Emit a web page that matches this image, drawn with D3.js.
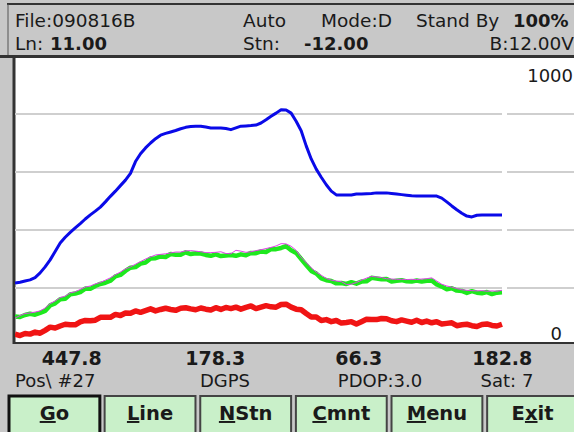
<!DOCTYPE html>
<html>
<head>
<meta charset="utf-8">
<title>Survey Screen</title>
<script src="https://d3js.org/d3.v7.min.js"></script>
<style>
  body { margin: 0; background: #c8c8c8; }
  svg { display: block; font-family: "DejaVu Sans", sans-serif; }
</style>
</head>
<body>
<div id="screen"></div>
<script>
  // readings along the line, one value per sample
  var blue = [217,220,224,228,236,252,273,297,326,355,375,392,407,422,438,452,465,479,497,516,
    534,553,572,595,636,663,683,700,715,727,733,738,743,749,754,757,758,758,755,752,
    752,752,750,746,752,758,759,760,762,769,780,792,803,815,814,803,775,742,690,645,
    610,582,556,534,521,521,521,521,524,524,525,526,528,528,528,526,524,522,520,518,
    517,517,517,517,517,510,497,483,470,458,448,445,451,452,452,452,452,452];
  var green = [102,100,107,111,108,114,121,140,147,161,163,178,181,186,198,197,207,214,218,225,
    240,245,259,270,272,284,288,302,303,309,307,317,315,315,323,317,320,319,314,311,
    316,310,312,314,311,316,313,321,320,326,324,334,334,338,344,330,321,300,279,259,
    250,233,227,224,216,217,214,220,215,222,223,235,233,230,231,222,225,227,223,222,
    226,222,225,226,212,205,196,199,191,190,183,189,184,182,186,179,184,185];
  var magenta = [96,105,112,114,117,121,131,146,155,167,172,183,187,195,203,207,214,219,227,235,
    246,255,266,273,282,291,300,307,314,316,318,321,324,324,328,329,327,325,322,322,
    323,325,319,318,330,327,323,325,329,332,336,340,345,353,352,344,330,305,288,270,
    255,244,233,227,224,222,212,213,219,227,234,240,238,236,232,231,230,230,229,230,
    229,231,232,235,224,213,207,203,198,194,192,191,190,191,189,190,189,192];
  var red = [41,36,43,41,48,44,54,65,62,69,75,73,73,83,88,87,89,99,99,99,
    109,105,114,113,121,116,122,128,121,126,130,126,123,130,132,128,125,131,127,124,
    132,126,133,129,134,127,133,138,129,134,139,135,134,143,144,134,127,125,112,100,
    100,88,91,84,88,79,81,84,76,84,92,91,91,95,94,87,84,90,86,82,
    89,81,86,80,84,76,78,80,70,73,75,70,67,74,76,71,69,75];

  var gridValues = [200, 400, 600, 800];
  var axisLabels = [0, 1000];
  var readings = ["447.8", "178.3", "66.3", "182.8"];
  var statusTexts = ["Pos\\ #27", "DGPS", "PDOP:3.0", "Sat: 7"];
  var buttons = ["Go", "Line", "NStn", "Cmnt", "Menu", "Exit"];
  var hotkeys = [0, 0, 0, 0, 0, 1];

  var W = 574, H = 432;
  var plot = { left: 15, right: 574, top: 58, bottom: 342 };

  var svg = d3.select('#screen').append('svg')
    .attr('width', W)
    .attr('height', H);

  svg.append('rect').attr('width', W).attr('height', H).attr('fill', '#c8c8c8');

  // header frame
  svg.append('line').attr('x1', 7).attr('x2', W).attr('y1', 4).attr('y2', 4)
    .attr('stroke', '#333').attr('stroke-width', 2);
  svg.append('line').attr('x1', 8).attr('x2', 8).attr('y1', 4).attr('y2', 57)
    .attr('stroke', '#555').attr('stroke-width', 1);

  var header = [
    { t: 'File:090816B', x: 15, y: 27 },
    { t: 'Auto', x: 243, y: 27 },
    { t: 'Mode:D', x: 321, y: 27 },
    { t: 'Stand By', x: 416, y: 27 },
    { t: '100%', x: 513, y: 27, b: true },
    { t: 'Ln:', x: 15, y: 50 },
    { t: '11.00', x: 50, y: 50, b: true },
    { t: 'Stn:', x: 243, y: 50 },
    { t: '-12.00', x: 304, y: 50, b: true },
    { t: 'B:12.00V', x: 574, y: 50, end: true }
  ];
  svg.selectAll('.hdr').data(header).enter().append('text')
    .attr('class', 'hdr')
    .attr('x', function(d) { return d.x; })
    .attr('y', function(d) { return d.y; })
    .attr('text-anchor', function(d) { return d.end ? 'end' : 'start'; })
    .attr('font-size', function(d) { return d.b ? 18 : 18.5; })
    .attr('font-weight', function(d) { return d.b ? 'bold' : 'normal'; })
    .attr('fill', '#1a1a1a')
    .text(function(d) { return d.t; });

  // plot area
  svg.append('rect')
    .attr('x', plot.left).attr('y', plot.top)
    .attr('width', plot.right - plot.left).attr('height', plot.bottom - plot.top)
    .attr('fill', '#fff');
  svg.append('line').attr('x1', 0).attr('x2', W).attr('y1', 56.5).attr('y2', 56.5)
    .attr('stroke', '#333').attr('stroke-width', 3);
  svg.append('line').attr('x1', 13).attr('x2', W).attr('y1', 343).attr('y2', 343)
    .attr('stroke', '#333').attr('stroke-width', 2);
  svg.append('line').attr('x1', 14).attr('x2', 14).attr('y1', 56).attr('y2', 344)
    .attr('stroke', '#333').attr('stroke-width', 3);

  var x = d3.scaleLinear().domain([0, blue.length - 1]).range([15, 502]);
  var y = d3.scaleLinear().domain([0, 1000]).range([346, 56]);

  var grid = svg.append('g');
  gridValues.forEach(function(v) {
    grid.append('line').attr('x1', plot.left).attr('x2', 502)
      .attr('y1', y(v)).attr('y2', y(v))
      .attr('stroke', '#cfcfcf').attr('stroke-width', 2);
    grid.append('line').attr('x1', 507).attr('x2', plot.right)
      .attr('y1', y(v)).attr('y2', y(v))
      .attr('stroke', '#cfcfcf').attr('stroke-width', 2);
  });

  svg.selectAll('.ylab').data(axisLabels).enter().append('text')
    .attr('class', 'ylab')
    .attr('x', function(d) { return d === 0 ? 562 : 573; })
    .attr('y', function(d) { return d === 0 ? y(d) - 6 : y(d) + 26; })
    .attr('text-anchor', 'end')
    .attr('font-size', 18)
    .attr('fill', '#1a1a1a')
    .text(function(d) { return d; });

  svg.append('clipPath').attr('id', 'clip').append('rect')
    .attr('x', plot.left).attr('y', plot.top)
    .attr('width', plot.right - plot.left).attr('height', plot.bottom - plot.top - 1);

  var line = d3.line()
    .x(function(d, i) { return x(i); })
    .y(function(d) { return y(d); });

  var series = [
    { v: blue, c: '#0a0ae8', w: 3 },
    { v: red, c: '#f01414', w: 5.5 },
    { v: green, c: '#1ee81e', w: 4.5 },
    { v: magenta, c: '#e040e8', w: 1 }
  ];
  var lines = svg.append('g').attr('clip-path', 'url(#clip)');
  series.forEach(function(s) {
    lines.append('path')
      .attr('d', line(s.v))
      .attr('fill', 'none')
      .attr('stroke', s.c)
      .attr('stroke-width', s.w)
      .attr('stroke-linejoin', 'round');
  });

  // readings under the plot
  var col = d3.scaleBand().domain(d3.range(readings.length)).range([0, W]);
  svg.selectAll('.rd').data(readings).enter().append('text')
    .attr('class', 'rd')
    .attr('x', function(d, i) { return col(i) + col.bandwidth() / 2; })
    .attr('y', 365)
    .attr('text-anchor', 'middle')
    .attr('font-size', 19)
    .attr('font-weight', 'bold')
    .attr('fill', '#1a1a1a')
    .text(function(d) { return d; });

  var statusX = [15, 225, 380, 507];
  svg.selectAll('.st').data(statusTexts).enter().append('text')
    .attr('class', 'st')
    .attr('x', function(d, i) { return statusX[i]; })
    .attr('y', 387)
    .attr('text-anchor', function(d, i) { return i === 0 ? 'start' : 'middle'; })
    .attr('font-size', 18)
    .attr('fill', '#1a1a1a')
    .text(function(d) { return d; });

  // buttons
  var band = d3.scaleBand().domain(buttons).range([9, 578]).paddingInner(0.05);
  var btn = svg.selectAll('.btn').data(buttons).enter().append('g')
    .attr('class', 'btn')
    .attr('transform', function(d) { return 'translate(' + band(d) + ',396)'; });
  btn.append('rect')
    .attr('width', band.bandwidth())
    .attr('height', 44)
    .attr('fill', '#c9f0c9')
    .attr('stroke', function(d, i) { return i === 0 ? '#111' : '#444'; })
    .attr('stroke-width', function(d, i) { return i === 0 ? 3 : 2; });
  var lbl = btn.append('text')
    .attr('x', band.bandwidth() / 2)
    .attr('y', 24)
    .attr('text-anchor', 'middle')
    .attr('font-size', 19.5)
    .attr('font-weight', 'bold')
    .attr('fill', '#1a1a1a');
  lbl.each(function(d, i) {
    var t = d3.select(this), k = hotkeys[i];
    if (k > 0) t.append('tspan').text(d.slice(0, k));
    t.append('tspan').style('text-decoration', 'underline').text(d.charAt(k));
    t.append('tspan').text(d.slice(k + 1));
  });
</script>
</body>
</html>
